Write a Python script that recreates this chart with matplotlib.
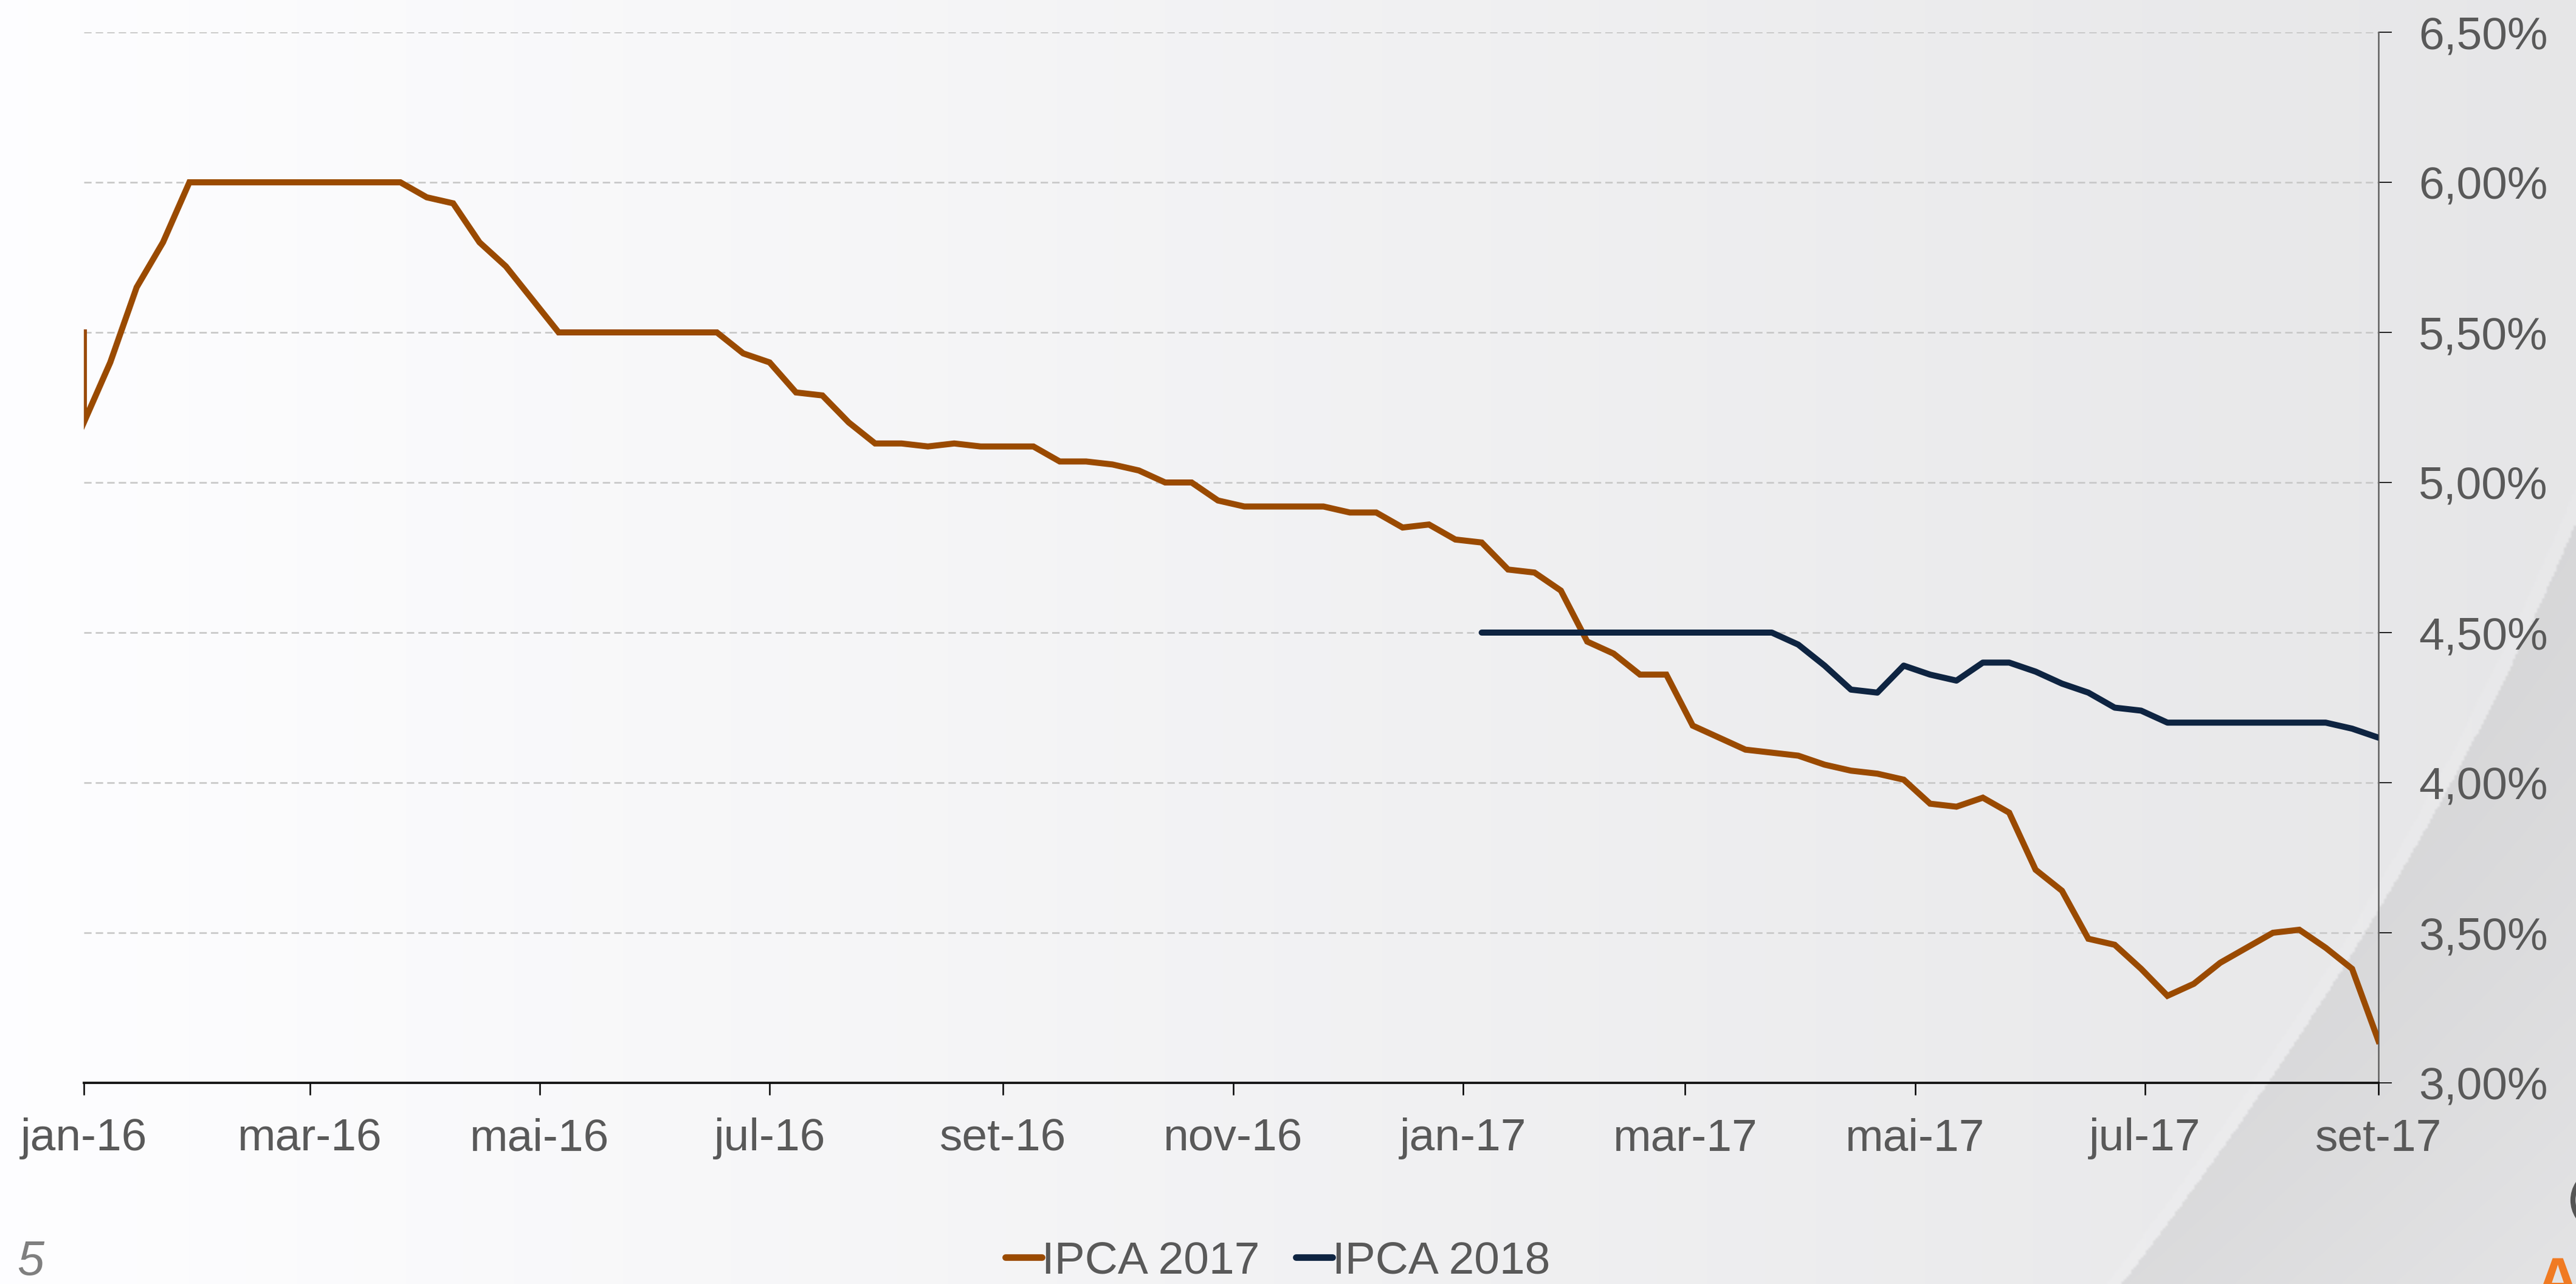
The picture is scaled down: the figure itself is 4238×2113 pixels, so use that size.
import numpy as np
import pandas as pd
import matplotlib
matplotlib.use('Agg')
import matplotlib.pyplot as plt
from matplotlib.patches import Arc

plt.rcParams['font.family'] = ['Liberation Sans', 'DejaVu Sans']

# weekly survey dates (fridays), jan-16 .. set-17
weeks = pd.date_range('2016-01-01', '2017-09-01', freq='7D')

# IPCA 2017 expectation (%), first point is the opening value
ipca_2017_dates = [pd.Timestamp('2016-01-01')] + list(weeks)
ipca_2017 = [5.50,
             5.20, 5.40, 5.65, 5.80, 6.00, 6.00, 6.00, 6.00, 6.00, 6.00,
             6.00, 6.00, 6.00, 5.95, 5.93, 5.80, 5.72, 5.61, 5.50, 5.50,
             5.50, 5.50, 5.50, 5.50, 5.50, 5.43, 5.40, 5.30, 5.29, 5.20,
             5.13, 5.13, 5.12, 5.13, 5.12, 5.12, 5.12, 5.07, 5.07, 5.06,
             5.04, 5.00, 5.00, 4.94, 4.92, 4.92, 4.92, 4.92, 4.90, 4.90,
             4.85, 4.86, 4.81, 4.80, 4.71, 4.70, 4.64, 4.47, 4.43, 4.36,
             4.36, 4.19, 4.15, 4.11, 4.10, 4.09, 4.06, 4.04, 4.03, 4.01,
             3.93, 3.92, 3.95, 3.90, 3.71, 3.64, 3.48, 3.46, 3.38, 3.29,
             3.33, 3.40, 3.45, 3.50, 3.51, 3.45, 3.38, 3.14]

# IPCA 2018 expectation (%), starts in jan-17
ipca_2018_dates = list(weeks[53:])
ipca_2018 = [4.50, 4.50, 4.50, 4.50, 4.50, 4.50, 4.50, 4.50, 4.50, 4.50,
             4.50, 4.50, 4.46, 4.39, 4.31, 4.30, 4.39, 4.36, 4.34, 4.40,
             4.40, 4.37, 4.33, 4.30, 4.25, 4.24, 4.20, 4.20, 4.20, 4.20,
             4.20, 4.20, 4.20, 4.18, 4.15]

tick_dates = pd.to_datetime(['2016-01-01', '2016-03-01', '2016-05-01', '2016-07-01',
                             '2016-09-01', '2016-11-01', '2017-01-01', '2017-03-01',
                             '2017-05-01', '2017-07-01', '2017-09-01'])
tick_labels = ['jan-16', 'mar-16', 'mai-16', 'jul-16', 'set-16', 'nov-16',
               'jan-17', 'mar-17', 'mai-17', 'jul-17', 'set-17']
y_ticks = [3.0, 3.5, 4.0, 4.5, 5.0, 5.5, 6.0, 6.5]

W, H = 4238, 2113
fig = plt.figure(figsize=(W / 300, H / 300), dpi=300)

# slide background: soft horizontal gradient + grey swoosh bottom right
bg = fig.add_axes([0, 0, 1, 1])
xs = np.linspace(0, W, 1060)
ys = np.linspace(0, H, 530)
X, Y = np.meshgrid(xs, ys)
v = 0.995 - 0.093 * (X / W)
curve = np.polyfit([870, 1313, 1700, 2113], [4238, 4014, 3796, 3491], 2)
xb = np.polyval(curve, Y)
d = X - xb
v = np.where(d > 0, v - 0.06 * np.clip(1 - d / 900, 0, 1), v)
v = np.where((d <= 0) & (d > -25), v + 0.008, v)
img = np.dstack([v, v, np.clip(v + 0.006, 0, 1)])
bg.imshow(img, extent=(0, W, H, 0), aspect='auto', interpolation='bilinear')
bg.add_patch(Arc((4278, 1975), 90, 95, theta1=110, theta2=250, color='#555555', lw=2))
bg.set_xlim(0, W)
bg.set_ylim(H, 0)
bg.axis('off')

ax = fig.add_axes([138 / W, 1 - 1782 / H, 3775 / W, 1729 / H])
ax.set_facecolor('none')

ax.plot(ipca_2017_dates, ipca_2017, color='#9A4A00', lw=2.4, label='IPCA 2017',
        solid_joinstyle='miter', zorder=3)
ax.plot(ipca_2018_dates, ipca_2018, color='#0E2441', lw=2.4, label='IPCA 2018',
        solid_capstyle='round', zorder=3)

ax.set_xlim(pd.Timestamp('2016-01-01'), pd.Timestamp('2017-09-01'))
ax.set_ylim(3.0, 6.5)
ax.set_xticks(tick_dates)
ax.set_xticklabels(tick_labels)
ax.set_yticks(y_ticks)
ax.set_yticklabels([f'{t:.2f}%'.replace('.', ',') for t in y_ticks])

ax.yaxis.tick_right()
ax.tick_params(axis='y', length=5.3, width=0.4, color='black', pad=10.5,
               labelsize=18, labelcolor='#595959')
ax.tick_params(axis='x', length=4.8, width=0.6, color='black', pad=9,
               labelsize=18, labelcolor='#595959')

ax.yaxis.grid(True, color='#c8c8c8', linestyle=(0, (4.5, 2.5)), linewidth=0.65)
ax.set_axisbelow(True)

for s in ['left', 'top']:
    ax.spines[s].set_visible(False)
ax.spines['bottom'].set_color('#111111')
ax.spines['bottom'].set_linewidth(0.9)
ax.spines['right'].set_color('#606060')
ax.spines['right'].set_linewidth(0.6)

leg = ax.legend(loc='center', bbox_to_anchor=(2102 / W, 1 - 2076 / H),
                bbox_transform=fig.transFigure, ncol=2, frameon=False,
                fontsize=18, handlelength=0.8, handletextpad=0.0,
                columnspacing=0.8, labelcolor='#595959')
for ln in leg.get_lines():
    ln.set_linewidth(2.6)
    ln.set_solid_capstyle('round')

fig.text(28 / W, 1 - 2098 / H, '5', fontsize=19, style='italic', color='#7f7f7f',
         ha='left', va='baseline')
fig.text(4172 / W, 1 - 2140 / H, 'A', fontsize=24, weight='bold', color='#F07A22',
         ha='left', va='baseline')

fig.savefig('out.png', dpi=300)
